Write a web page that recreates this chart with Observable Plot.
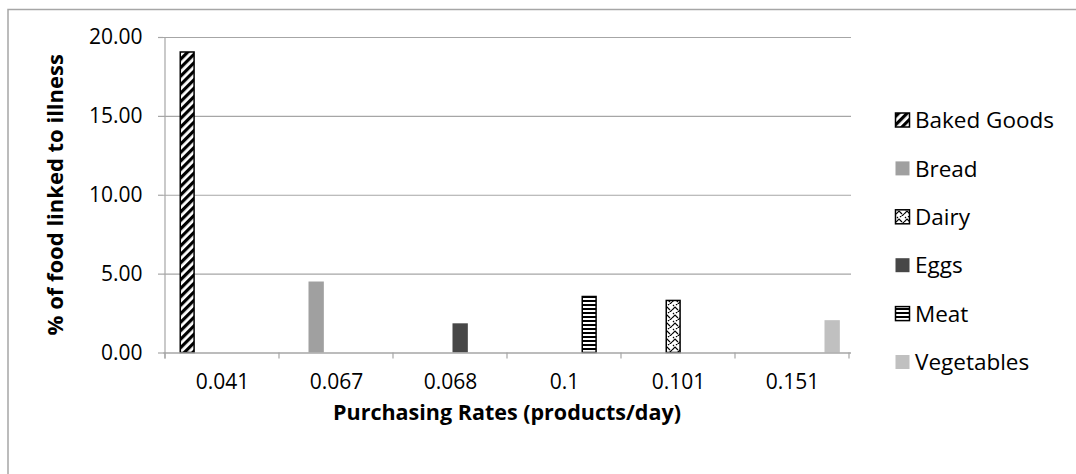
<!DOCTYPE html>
<html>
<head>
<meta charset="utf-8">
<script src="https://cdn.jsdelivr.net/npm/d3@7"></script>
<script src="https://cdn.jsdelivr.net/npm/@observablehq/plot@0.6"></script>
<style>
  html, body { margin: 0; padding: 0; background: #fff; }
  #chart svg { display: block; }
</style>
</head>
<body>
<div id="chart"></div>
<script>
// ---- data ----
const rates = ["0.041", "0.067", "0.068", "0.1", "0.101", "0.151"];
const series = ["Baked Goods", "Bread", "Dairy", "Eggs", "Meat", "Vegetables"];
const seriesRate = ["0.041", "0.067", "0.101", "0.068", "0.1", "0.151"];
const seriesValue = [19.05, 4.5, 3.3, 1.85, 3.55, 2.05];
const yTicks = [0, 5, 10, 15, 20];
const xTitle = "Purchasing Rates (products/day)";
const yTitle = "% of food linked to illness";

// ---- styles ----
const fills = ["url(#p-baked)", "#a0a0a0", "url(#p-dairy)", "#474747", "url(#p-meat)", "#c0c0c0"];
const strokes = ["#000", "none", "#000", "none", "#000", "none"];
const FONT = "'Open Sans', 'DejaVu Sans', sans-serif";
const GRAY = "#a6a6a6";

const data = series.map((s, i) => ({series: s, rate: seriesRate[i], value: seriesValue[i]}));

const W = 1076, H = 474;
const mL = 163, mR = 225, mT = 37, mB = 121.5;
const step = (W - mL - mR) / rates.length;
const outer = 14.5, slot = 15, barW = 16;

const chart = Plot.plot({
  width: W, height: H,
  marginLeft: mL, marginRight: mR, marginTop: mT, marginBottom: mB,
  style: {fontFamily: FONT, fontSize: "21px", color: "#000", background: "#fff"},
  x: {domain: rates, padding: 0, label: null},
  y: {domain: [0, 20], label: null},
  marks: [
    Plot.gridY(yTicks.slice(1), {stroke: GRAY, strokeOpacity: 1, strokeWidth: 1.2}),
    Plot.axisY(yTicks, {tickFormat: d => d.toFixed(2), tickSize: 5, tickPadding: 16, stroke: GRAY, strokeWidth: 1.2, fill: "#000", label: null}),
    Plot.axisX({tickSize: 0, tickPadding: 21, fill: "#000", label: null}),
    ...series.map((s, i) => Plot.barY(data.filter(d => d.series === s), {
      x: "rate", y: "value",
      fill: fills[i], stroke: strokes[i], strokeWidth: 1.5,
      insetLeft: outer + i * slot + (strokes[i] === "none" ? 0 : 0.75),
      insetRight: step - (outer + i * slot + barW) + (strokes[i] === "none" ? 0 : 0.75)
    })),
    Plot.ruleY([0], {stroke: GRAY, strokeWidth: 1.5})
  ]
});

document.getElementById("chart").appendChild(chart);

const svg = d3.select(chart);
// patterns
const defs = svg.insert("defs", ":first-child");
const pb = defs.append("pattern").attr("id", "p-baked").attr("patternUnits", "userSpaceOnUse")
  .attr("width", 6).attr("height", 6).attr("patternTransform", "rotate(45)");
pb.append("rect").attr("width", 6).attr("height", 6).attr("fill", "#fff");
pb.append("rect").attr("width", 3.2).attr("height", 6).attr("fill", "#000");

const pm = defs.append("pattern").attr("id", "p-meat").attr("patternUnits", "userSpaceOnUse")
  .attr("width", 4).attr("height", 4);
pm.append("rect").attr("width", 4).attr("height", 4).attr("fill", "#fff");
pm.append("rect").attr("width", 4).attr("height", 2).attr("fill", "#000");

const pd = defs.append("pattern").attr("id", "p-dairy").attr("patternUnits", "userSpaceOnUse")
  .attr("width", 8).attr("height", 8);
pd.append("rect").attr("width", 8).attr("height", 8).attr("fill", "#fff");
pd.append("path").attr("d", "M0,6 L3,3 L6,6 M4,1 L7,-2 M5,9 L8,6 M1,2 L2,1")
  .attr("stroke", "#000").attr("stroke-width", 1.2).attr("fill", "none");

// axis spine and band-edge ticks via the plot's scales
const xs = chart.scale("x"), ys = chart.scale("y");
const y0 = ys.apply(0), y20 = ys.apply(20);
const edges = rates.map(r => xs.apply(r)).concat([xs.apply(rates[rates.length - 1]) + xs.bandwidth]);
const g = svg.append("g").attr("stroke", GRAY).attr("stroke-width", 1.2);
g.append("line").attr("x1", edges[0]).attr("x2", edges[0]).attr("y1", y20).attr("y2", y0 + 6);
edges.forEach(e => g.append("line").attr("x1", e).attr("x2", e).attr("y1", y0).attr("y2", y0 + 6));

// axis titles
svg.append("text").attr("x", (edges[0] + edges[edges.length - 1]) / 2).attr("y", 420)
  .attr("text-anchor", "middle").attr("font-weight", "bold").attr("font-size", 21.5)
  .attr("font-family", FONT).attr("fill", "#000").text(xTitle);
svg.append("text").attr("transform", `translate(63,${(y0 + y20) / 2}) rotate(-90)`)
  .attr("text-anchor", "middle").attr("font-weight", "bold").attr("font-size", 22)
  .attr("font-family", FONT).attr("fill", "#000").text(yTitle);

// legend
const lg = svg.append("g").attr("font-family", FONT).attr("font-size", 22.5).attr("text-anchor", "start");
series.forEach((s, i) => {
  const cy = 120 + i * 48.4;
  lg.append("rect").attr("x", 895.5).attr("y", cy - 7).attr("width", 14).attr("height", 14)
    .attr("fill", fills[i]).attr("stroke", strokes[i]).attr("stroke-width", 1.5);
  lg.append("text").attr("x", 915).attr("y", cy).attr("dy", "0.36em").attr("fill", "#000").text(s);
});

// outer chart border
svg.append("rect").attr("x", 8).attr("y", 9.5).attr("width", W + 20).attr("height", H + 20)
  .attr("fill", "none").attr("stroke", GRAY).attr("stroke-width", 1.5);
</script>
</body>
</html>
